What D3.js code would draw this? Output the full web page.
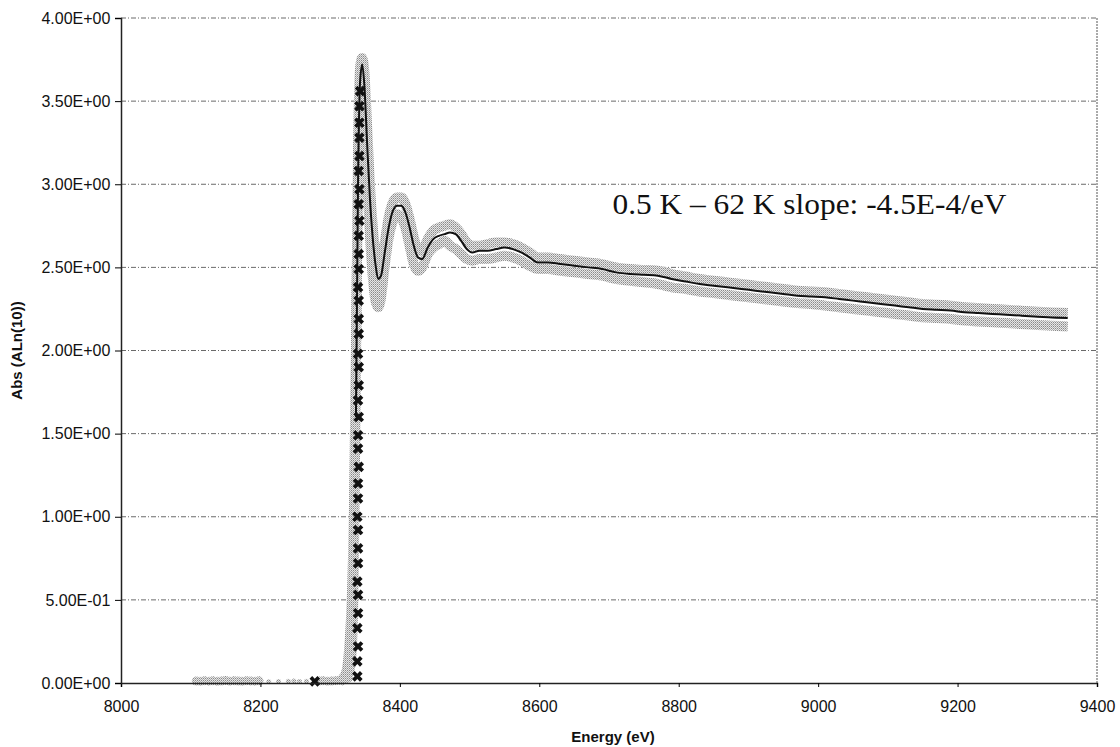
<!DOCTYPE html>
<html>
<head>
<meta charset="utf-8">
<script src="https://cdn.jsdelivr.net/npm/d3@7"></script>
<style>
  body { margin: 0; background: #fff; }
  text { font-family: "Liberation Sans", Arial, sans-serif; }
</style>
</head>
<body>
<div id="chart"></div>
<script>
// energies (eV) shared by the three edge/post-edge scans
var energy = [
  8314, 8322, 8328, 8331, 8334, 8337, 8340, 8343, 8346, 8349,
  8353, 8357, 8361, 8365, 8369, 8373, 8378, 8384, 8390, 8396,
  8402, 8408, 8414, 8420, 8426, 8432, 8440, 8448, 8456, 8464,
  8472, 8480, 8488, 8496, 8504, 8514, 8526, 8538, 8550, 8562,
  8574, 8586, 8598, 8612, 8630, 8650, 8670, 8690, 8710, 8730,
  8750, 8770, 8790, 8810, 8830, 8850, 8870, 8890, 8910, 8930,
  8950, 8970, 8990, 9010, 9030, 9050, 9070, 9090, 9110, 9130,
  9150, 9170, 9190, 9210, 9230, 9250, 9270, 9290, 9310, 9330,
  9358
];

// black line scan
var absMain = [
  0.01, 0.02, 0.05, 0.12, 0.5, 1.6, 3.0, 3.62, 3.72, 3.60,
  3.25, 2.92, 2.68, 2.52, 2.43, 2.45, 2.58, 2.74, 2.84, 2.87,
  2.87, 2.83, 2.74, 2.63, 2.56, 2.55, 2.62, 2.67, 2.69, 2.70,
  2.71, 2.70, 2.66, 2.61, 2.59, 2.60, 2.60, 2.61, 2.62, 2.61,
  2.59, 2.56, 2.53, 2.53, 2.52, 2.51, 2.50, 2.49, 2.47, 2.46,
  2.455, 2.45, 2.43, 2.415, 2.40, 2.39, 2.38, 2.37, 2.36, 2.35,
  2.34, 2.33, 2.325, 2.32, 2.31, 2.30, 2.29, 2.28, 2.27, 2.26,
  2.25, 2.245, 2.24, 2.23, 2.225, 2.22, 2.215, 2.21, 2.205, 2.20,
  2.195
];

// grey scans (upper and lower band)
var absUpper = [
  0.02, 0.03, 0.08, 0.2, 0.7, 1.9, 3.2, 3.70, 3.76, 3.68,
  3.35, 3.0, 2.75, 2.58, 2.48, 2.50, 2.64, 2.80, 2.89, 2.92,
  2.92, 2.88, 2.79, 2.68, 2.60, 2.60, 2.67, 2.72, 2.74, 2.75,
  2.76, 2.74, 2.70, 2.65, 2.63, 2.63, 2.64, 2.65, 2.65, 2.64,
  2.62, 2.59, 2.56, 2.56, 2.55, 2.54, 2.53, 2.52, 2.50, 2.49,
  2.485, 2.48, 2.46, 2.445, 2.43, 2.42, 2.41, 2.40, 2.39, 2.38,
  2.37, 2.36, 2.355, 2.35, 2.34, 2.33, 2.32, 2.31, 2.30, 2.29,
  2.28, 2.275, 2.27, 2.26, 2.255, 2.25, 2.245, 2.24, 2.235, 2.23,
  2.225
];

var absLower = [
  0.01, 0.05, 0.25, 0.5, 1.0, 2.0, 3.0, 3.55, 3.65, 3.50,
  3.05, 2.70, 2.45, 2.30, 2.26, 2.32, 2.50, 2.68, 2.78, 2.82,
  2.80, 2.74, 2.63, 2.52, 2.48, 2.50, 2.58, 2.62, 2.64, 2.66,
  2.63, 2.61, 2.58, 2.55, 2.54, 2.55, 2.55, 2.56, 2.57, 2.56,
  2.54, 2.51, 2.49, 2.49, 2.48, 2.47, 2.46, 2.45, 2.43, 2.42,
  2.41, 2.40, 2.38, 2.37, 2.355, 2.345, 2.335, 2.325, 2.315, 2.305,
  2.295, 2.285, 2.28, 2.27, 2.26, 2.25, 2.24, 2.23, 2.22, 2.21,
  2.20, 2.195, 2.19, 2.18, 2.175, 2.17, 2.165, 2.16, 2.155, 2.15,
  2.145
];

// pre-edge grey markers
var preEnergy = [8108, 8114, 8120, 8126, 8132, 8138, 8144, 8150, 8156, 8162,
  8168, 8174, 8180, 8186, 8192, 8198, 8212, 8226, 8240, 8248,
  8256, 8266, 8284, 8290, 8296, 8302, 8308, 8314, 8320, 8326];
var preAbs = [0.012, 0.010, 0.014, 0.011, 0.013, 0.010, 0.012, 0.015, 0.011, 0.013,
  0.012, 0.010, 0.014, 0.012, 0.011, 0.013, 0.008, 0.009, 0.010, 0.012,
  0.009, 0.011, 0.012, 0.013, 0.011, 0.012, 0.014, 0.016, 0.02, 0.03];

// black X markers along the edge
var markEnergy = [8278, 8339, 8339, 8340, 8339, 8340, 8340, 8339, 8340, 8340,
  8340, 8339, 8340, 8340, 8341, 8340, 8340, 8341, 8340, 8341,
  8341, 8340, 8341, 8341, 8341, 8340, 8341, 8341, 8341, 8342,
  8341, 8342, 8341, 8342, 8342, 8342, 8342, 8343];
var markAbs = [0.01, 0.04, 0.13, 0.22, 0.33, 0.42, 0.53, 0.61, 0.72, 0.81,
  0.92, 1.0, 1.11, 1.2, 1.3, 1.41, 1.49, 1.6, 1.7, 1.79,
  1.9, 1.98, 2.1, 2.19, 2.3, 2.38, 2.49, 2.58, 2.69, 2.78,
  2.88, 2.97, 3.08, 3.17, 3.28, 3.37, 3.47, 3.56];

var xTicks = [8000, 8200, 8400, 8600, 8800, 9000, 9200, 9400];
var yTicks = [0, 0.5, 1, 1.5, 2, 2.5, 3, 3.5, 4];
var yTickLabels = ["0.00E+00", "5.00E-01", "1.00E+00", "1.50E+00", "2.00E+00",
  "2.50E+00", "3.00E+00", "3.50E+00", "4.00E+00"];
var note = "0.5 K \u2013 62 K slope: -4.5E-4/eV";

var svgWidth = 1120;
var svgHeight = 747;
var margin = {top: 18, right: 23, bottom: 64, left: 121};
var width = svgWidth - margin.left - margin.right;
var height = svgHeight - margin.top - margin.bottom;

var svg = d3.select("#chart").append("svg")
    .attr("width", svgWidth)
    .attr("height", svgHeight);

// halftone look of the scanned grey traces
var pat = svg.append("defs").append("pattern")
    .attr("id", "half")
    .attr("width", 2).attr("height", 2)
    .attr("patternUnits", "userSpaceOnUse");
pat.append("rect").attr("width", 2).attr("height", 2).attr("fill", "#e6e6e6");
pat.append("rect").attr("width", 1).attr("height", 1).attr("fill", "#8a8a8a");
pat.append("rect").attr("x", 1).attr("y", 1).attr("width", 1).attr("height", 1).attr("fill", "#b0b0b0");

var g = svg.append("g")
    .attr("transform", "translate(" + margin.left + "," + margin.top + ")");

var x = d3.scaleLinear().domain([8000, 9400]).range([0, width]);
var y = d3.scaleLinear().domain([0, 4]).range([height, 0]);

// grid lines
g.append("g")
  .selectAll("line")
  .data(yTicks.slice(1))
  .enter().append("line")
    .attr("x1", 0).attr("x2", width)
    .attr("y1", d => y(d)).attr("y2", d => y(d))
    .attr("stroke", "#6a6a6a")
    .attr("stroke-width", 1)
    .attr("stroke-dasharray", "5,2,1,2");

// right border
g.append("line")
    .attr("x1", width).attr("x2", width)
    .attr("y1", 0).attr("y2", height)
    .attr("stroke", "#555")
    .attr("stroke-dasharray", "2,1");

var line = d3.line()
    .x(d => x(d[0]))
    .y(d => y(d[1]))
    .curve(d3.curveMonotoneX);

var upperData = energy.map((e, i) => [e, absUpper[i]]);
var lowerData = energy.map((e, i) => [e, absLower[i]]);
var mainData = energy.map((e, i) => [e, absMain[i]]);

// grey scans
[lowerData, upperData].forEach(function(data) {
  g.append("path")
      .datum(data)
      .attr("fill", "none")
      .attr("stroke", "url(#half)")
      .attr("stroke-width", 10)
      .attr("stroke-linejoin", "round")
      .attr("d", line);
});

// pre-edge markers
g.append("g")
  .selectAll("circle")
  .data(preEnergy)
  .enter().append("circle")
    .attr("cx", d => x(d))
    .attr("cy", (d, i) => y(preAbs[i]))
    .attr("r", (d, i) => (d > 8205 && d < 8280) ? 2.5 : 4.5)
    .attr("fill", "url(#half)");

// black scan
g.append("path")
    .datum(mainData.filter(d => d[0] >= 8337))
    .attr("fill", "none")
    .attr("stroke", "#111")
    .attr("stroke-width", 2)
    .attr("d", line);

// edge markers
g.append("g")
  .selectAll("path")
  .data(markEnergy)
  .enter().append("path")
    .attr("transform", (d, i) => "translate(" + x(d) + "," + y(markAbs[i]) + ") rotate(45)")
    .attr("d", d3.symbol().type(d3.symbolCross).size(70))
    .attr("fill", "#111");

// axes
var xAxis = g.append("g")
    .attr("transform", "translate(0," + height + ")")
    .call(d3.axisBottom(x).tickValues(xTicks).tickSize(4).tickFormat(d3.format("d")));
xAxis.select(".domain").attr("stroke", "#222").attr("stroke-width", 1.5);
xAxis.selectAll("text").attr("font-size", 16).attr("fill", "#111").attr("dy", "1.35em");

var yAxis = g.append("g")
    .call(d3.axisLeft(y).tickValues(yTicks).tickSize(6).tickFormat((d, i) => yTickLabels[i]));
yAxis.select(".domain").attr("stroke", "#222").attr("stroke-width", 1.5);
yAxis.selectAll("text").attr("font-size", 16).attr("fill", "#111").attr("dx", "-0.1em");

g.append("text")
    .attr("x", width / 2 + 4)
    .attr("y", height + 59)
    .attr("text-anchor", "middle")
    .attr("font-size", 15)
    .attr("font-weight", "bold")
    .attr("fill", "#111")
    .text("Energy (eV)");

g.append("text")
    .attr("transform", "rotate(-90)")
    .attr("x", -y(2))
    .attr("y", -99)
    .attr("text-anchor", "middle")
    .attr("font-size", 15)
    .attr("font-weight", "bold")
    .attr("fill", "#111")
    .text("Abs (ALn(10))");

g.append("text")
    .attr("x", x(8705))
    .attr("y", y(2.82))
    .style("font-family", "'Liberation Serif', 'DejaVu Serif', serif")
    .attr("font-size", 29)
    .attr("textLength", 394)
    .attr("lengthAdjust", "spacingAndGlyphs")
    .attr("fill", "#111")
    .text(note);
</script>
</body>
</html>
